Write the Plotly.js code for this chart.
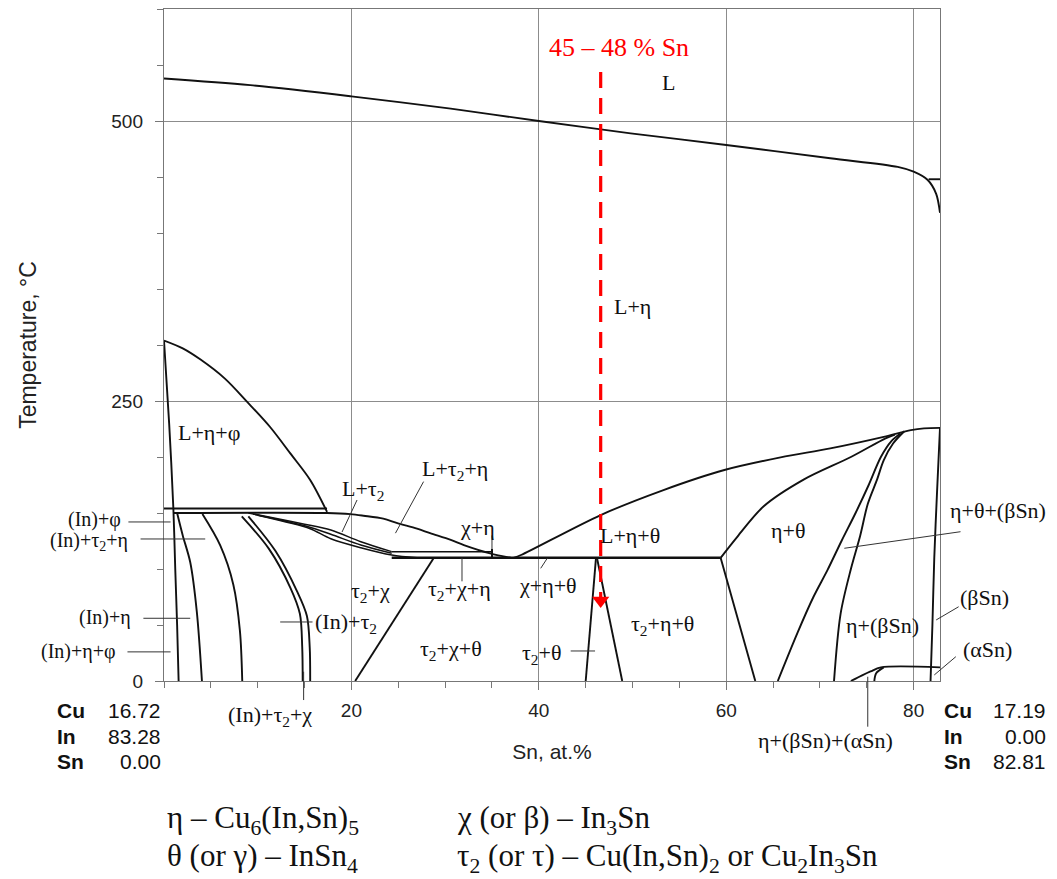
<!DOCTYPE html>
<html>
<head>
<meta charset="utf-8">
<script src="https://cdn.plot.ly/plotly-3.0.1.min.js"></script>
<style>
  html, body { margin: 0; padding: 0; background: #ffffff; }
  #chart { width: 1057px; height: 879px; }
</style>
</head>
<body>
<div id="chart"></div>
<script>
// Cu–In–Sn isopleth: Cu fixed (16.72 → 17.19 at.%), Sn from 0 to 82.81 at.%
// Each phase boundary is a pair of arrays: Sn (at.%) and temperature (°C).

const liquidusSn = [0, 9.2, 20, 30.6, 40, 49.8, 60, 71.1, 78.3, 80, 81.5, 82.4, 82.81];
const liquidusT  = [538, 532, 522, 511, 500, 489, 478.6, 466.7, 459, 454.7, 447.3, 435, 418];

const liqStepSn = [81.6, 82.81];
const liqStepT  = [448, 448];

const domeSn = [0, 2, 3.9, 6.5, 8.9, 11.3, 13.5, 15.6, 17.4];
const domeT  = [304, 297, 287, 270, 249, 227, 203, 179.5, 151];

const inSolvusSn = [0, 0.55, 1.0, 1.2, 1.4, 1.56];
const inSolvusT  = [304, 230, 154, 100, 50, 0];

const upperFlatSn = [0, 17.4];
const upperFlatT  = [154, 154];

const tau2LiqSn = [1.0, 17.4, 19.9, 21.3, 23.4, 24.9, 27, 28.4, 30.6, 32, 34.8, 37];
const tau2LiqT  = [150, 150, 149, 147.6, 145, 141, 136, 132, 126, 121.4, 114, 110];

const lineBSn = [1.4, 2.0, 2.8, 3.5, 4.05];
const lineBT  = [150, 130, 106, 62, 0];

const lineCSn = [4.1, 6.0, 7.4, 8.1, 8.35];
const lineCT  = [149, 121, 86, 45, 0];

const lineD1Sn = [8.3, 11.2, 13.5, 14.5, 14.75, 14.8];
const lineD1T  = [147, 118, 83, 60, 30, 0];

const lineD2Sn = [9.0, 11.9, 14.2, 15.25, 15.55, 15.6];
const lineD2T  = [147, 116, 80, 58, 30, 0];

const band1Sn = [9.0, 12, 15, 17.8, 21, 24.3];
const band1T  = [150, 145, 140, 134.8, 124.4, 115.5];
const band2Sn = [9.5, 12.5, 15.3, 17.8, 21, 24.3];
const band2T  = [149, 143.5, 138, 131, 121.4, 114];
const band3Sn = [10, 13, 15.6, 17.8, 21, 24.3, 27];
const band3T  = [148, 142, 136, 127, 119, 112.5, 110];

const chiEtaFlatSn = [24.3, 35.0];
const chiEtaFlatT  = [115.5, 115.5];
const chiEtaWallSn = [35.0, 35.0];
const chiEtaWallT  = [110, 118];

const eutecticSn = [24.3, 59.4];
const eutecticT  = [110, 110];

const chiSolvusSn = [20.4, 28.8];
const chiSolvusT  = [0, 110];

const tauThetaLeftSn  = [46.1, 45.0];
const tauThetaLeftT   = [110, 0];
const tauThetaRightSn = [46.2, 48.9];
const tauThetaRightT  = [110, 0];

const thetaLiqSn = [37.3, 38.1, 46.6, 53.3, 59.8, 65.8, 71.1, 76.8, 79.7, 81.1, 82.81];
const thetaLiqT  = [110, 112.5, 148.2, 170.5, 188.4, 199.7, 207.7, 218, 224, 225.6, 226];

const etaThetaSn = [59.4, 61.2, 64.0, 68.3, 73.3, 77.0, 78.0];
const etaThetaT  = [110, 129, 156, 180, 200, 216.7, 220];

const etaThetaLowSn = [59.4, 63.1];
const etaThetaLowT  = [110, 0];

const thetaSolvusSn = [65.5, 67.6, 69.3, 70.8, 72.3, 73.8, 75.2, 76.5, 77.6, 78.6];
const thetaSolvusT  = [0, 43, 75, 99, 125, 150, 175, 200, 214, 221];

const betaSnLeftSn = [71.5, 72.2, 73.3, 74.3, 75.1, 76.1, 76.8, 77.8, 79.0];
const betaSnLeftT  = [0, 60, 100, 130, 158, 180, 197, 212, 223];

const betaSnRightSn = [82.81, 82.5, 82.2, 82.0, 81.8];
const betaSnRightT  = [226, 170, 110, 50, 0];

const alphaSnSn = [73.3, 74.5, 75.4, 76.5, 82.81];
const alphaSnT  = [0, 5, 8.5, 12.2, 12.2];
const alphaSn2Sn = [75.8, 76.0, 76.8];
const alphaSn2T  = [0, 7, 12.2];

// section studied: 45–48 % Sn
const sectionSn = [46.6, 46.6];
const sectionT  = [543.75, 75];
const sectionTip = [71.9];

// phase-field labels inside the frame: [text, Sn, T]
const fieldLabels = [
  ['L', 53.8, 534],
  ['L+η', 50.0, 334],
  ['L+η+φ', 4.8, 222],
  ['L+τ<sub>2</sub>', 21.2, 170.5],
  ['L+τ<sub>2</sub>+η', 31.05, 188.4],
  ['χ+η', 33.5, 137.5],
  ['L+η+θ', 49.7, 129.5],
  ['η+θ', 66.6, 134],
  ['τ<sub>2</sub>+χ', 22.0, 79.5],
  ['τ<sub>2</sub>+χ+η', 31.5, 81],
  ['χ+η+θ', 41.0, 85],
  ['(In)+τ<sub>2</sub>', 19.4, 51.8],
  ['τ<sub>2</sub>+χ+θ', 30.6, 27.7],
  ['τ<sub>2</sub>+θ', 40.3, 24.1],
  ['τ<sub>2</sub>+η+θ', 53.2, 50],
  ['η+(βSn)', 76.7, 50]
];

// labels set outside the frame: [text, Sn, T, xanchor, size]
const outerLabels = [
  ['η+θ+(βSn)', 89.0, 151.8, 'center', 22],
  ['(βSn)', 87.6, 75, 'center', 22],
  ['(αSn)', 87.9, 27.7, 'center', 22],
  ['η+(βSn)+(αSn)', 70.6, -52.7, 'center', 22],
  ['(In)+τ<sub>2</sub>+χ', 11.3, -31, 'center', 22],
  ['(In)+φ', -4.4, 144.5, 'right', 20],
  ['(In)+τ<sub>2</sub>+η', -3.6, 125, 'right', 20],
  ['(In)+η', -3.3, 57, 'right', 20],
  ['(In)+η+φ', -4.9, 26, 'right', 20]
];

// leader lines: [fromSn, fromT, toSn, toT]
const leaders = [
  [-3.8, 142, 0.7, 142],
  [-2.5, 126.8, 4.4, 126.8],
  [-2.2, 56, 2.8, 56],
  [-3.9, 26, 0.7, 26],
  [14.9, -17, 14.9, 8.3],
  [15.85, 52.7, 12.4, 52.7],
  [20.6, 161.6, 19.0, 133],
  [27.7, 178, 24.7, 132],
  [35.0, 130, 35.0, 118],
  [31.8, 89, 31.8, 110],
  [40.2, 100.6, 40.9, 109.6],
  [43.4, 26.8, 46.0, 26.8],
  [85.0, 133.3, 72.6, 118.5],
  [84.8, 66.3, 82.4, 54.5],
  [84.5, 21.7, 82.2, 5.4],
  [75.1, -40.8, 75.1, 3.8]
];

const endLeftLabels  = ['Cu', 'In', 'Sn'];
const endLeftValues  = ['16.72', '83.28', '0.00'];
const endRightValues = ['17.19', '0.00', '82.81'];

const xTickVals = [20, 40, 60, 80];
const yTickVals = [0, 250, 500];

const legendRows = [
  ['η – Cu<sub>6</sub>(In,Sn)<sub>5</sub>', 'χ (or β) – In<sub>3</sub>Sn'],
  ['θ (or γ) – InSn<sub>4</sub>', 'τ<sub>2</sub> (or τ) – Cu(In,Sn)<sub>2</sub> or Cu<sub>2</sub>In<sub>3</sub>Sn']
];

const X_RANGE = [0, 82.81];
const Y_RANGE = [0, 600];
const INK = '#111111';
const SERIF = 'Liberation Serif, Times New Roman, serif';
const SANS = 'Liberation Sans, Arial, sans-serif';

// data → paper fractions, for items that sit partly outside the frame
function xPaper(sn) { return (sn - X_RANGE[0]) / (X_RANGE[1] - X_RANGE[0]); }
function yPaper(t) { return (t - Y_RANGE[0]) / (Y_RANGE[1] - Y_RANGE[0]); }

function boundary(x, y, smooth, width) {
  return {
    type: 'scatter', mode: 'lines', x: x, y: y, hoverinfo: 'skip', showlegend: false,
    line: { color: INK, width: width || 1.9, shape: smooth ? 'spline' : 'linear', smoothing: 0.9 }
  };
}

const traces = [
  boundary(liquidusSn, liquidusT, true),
  boundary(liqStepSn, liqStepT, false),
  boundary(domeSn, domeT, true),
  boundary(inSolvusSn, inSolvusT, true),
  boundary(upperFlatSn, upperFlatT, false, 2.2),
  boundary(tau2LiqSn, tau2LiqT, true),
  boundary(lineBSn, lineBT, true),
  boundary(lineCSn, lineCT, true),
  boundary(lineD1Sn, lineD1T, true),
  boundary(lineD2Sn, lineD2T, true),
  boundary(band1Sn, band1T, true, 1.5),
  boundary(band2Sn, band2T, true, 1.5),
  boundary(band3Sn, band3T, true, 1.5),
  boundary(chiEtaFlatSn, chiEtaFlatT, false, 1.5),
  boundary(chiEtaWallSn, chiEtaWallT, false, 2),
  boundary(eutecticSn, eutecticT, false, 2.6),
  boundary(chiSolvusSn, chiSolvusT, false),
  boundary(tauThetaLeftSn, tauThetaLeftT, false),
  boundary(tauThetaRightSn, tauThetaRightT, false),
  boundary(thetaLiqSn, thetaLiqT, true),
  boundary(etaThetaSn, etaThetaT, true),
  boundary(etaThetaLowSn, etaThetaLowT, false),
  boundary(thetaSolvusSn, thetaSolvusT, true),
  boundary(betaSnLeftSn, betaSnLeftT, true),
  boundary(betaSnRightSn, betaSnRightT, true),
  boundary(alphaSnSn, alphaSnT, true),
  boundary(alphaSn2Sn, alphaSn2T, true),
  {
    type: 'scatter', mode: 'lines', x: sectionSn, y: sectionT, hoverinfo: 'skip', showlegend: false,
    line: { color: '#ff0000', width: 3.2, dash: '16px,10px' }
  },
  {
    type: 'scatter', mode: 'markers', x: [sectionSn[0]], y: sectionTip, hoverinfo: 'skip', showlegend: false,
    cliponaxis: false,
    marker: { symbol: 'triangle-down', size: 15, color: '#ff0000', line: { width: 0 } }
  }
];

const annotations = [];

fieldLabels.forEach(function (f) {
  annotations.push({
    text: f[0], x: f[1], y: f[2], xref: 'x', yref: 'y', showarrow: false,
    xanchor: 'center', yanchor: 'middle',
    font: { family: SERIF, size: 22, color: '#111' }
  });
});

outerLabels.forEach(function (f) {
  annotations.push({
    text: f[0], x: xPaper(f[1]), y: yPaper(f[2]), xref: 'paper', yref: 'paper', showarrow: false,
    xanchor: f[3], yanchor: 'middle',
    font: { family: SERIF, size: f[4], color: '#111' }
  });
});

annotations.push({
  text: '45 – 48 % Sn', x: 48.6, y: 566, xref: 'x', yref: 'y', showarrow: false,
  xanchor: 'center', yanchor: 'middle',
  font: { family: SERIF, size: 26, color: '#ff0000' }
});

// composition of the two ends of the section
const rowY = [-0.0432, -0.0833, -0.1205];
endLeftLabels.forEach(function (el, i) {
  const common = { xref: 'paper', yref: 'paper', yanchor: 'middle', showarrow: false,
    font: { family: SANS, size: 21, color: '#111' } };
  annotations.push(Object.assign({ text: '<b>' + el + '</b>', x: -0.1405, y: rowY[i], xanchor: 'left' }, common));
  annotations.push(Object.assign({ text: endLeftValues[i], x: -0.0013, y: rowY[i], xanchor: 'right' }, common));
  annotations.push(Object.assign({ text: '<b>' + el + '</b>', x: 1.0026, y: rowY[i], xanchor: 'left' }, common));
  annotations.push(Object.assign({ text: endRightValues[i], x: 1.1392, y: rowY[i], xanchor: 'right' }, common));
});

// phase key under the diagram
const keyY = [-0.2068, -0.2634];
const keyX = [0.0013, 0.375];
legendRows.forEach(function (row, r) {
  row.forEach(function (txt, c) {
    annotations.push({ text: txt, x: keyX[c], y: keyY[r], xref: 'paper', yref: 'paper',
      xanchor: 'left', yanchor: 'middle', showarrow: false,
      font: { family: SERIF, size: 31, color: '#111' } });
  });
});

const shapes = leaders.map(function (l) {
  return {
    type: 'line', xref: 'paper', yref: 'paper', layer: 'above',
    x0: xPaper(l[0]), y0: yPaper(l[1]), x1: xPaper(l[2]), y1: yPaper(l[3]),
    line: { color: '#333', width: 1 }
  };
});

const layout = {
  width: 1057, height: 879,
  margin: { l: 164, r: 117, t: 9, b: 198, pad: 0 },
  paper_bgcolor: '#ffffff', plot_bgcolor: '#ffffff',
  showlegend: false,
  xaxis: {
    range: X_RANGE, tickmode: 'array', tickvals: xTickVals,
    ticks: 'outside', ticklen: 8, tickcolor: '#777', tickwidth: 1,
    showgrid: true, gridcolor: '#8c8c8c', gridwidth: 1, zeroline: false,
    showline: true, linecolor: '#777', linewidth: 1.2, mirror: true,
    minor: { tickmode: 'linear', tick0: 0, dtick: 5, ticks: 'outside', ticklen: 6, tickcolor: '#777', showgrid: false },
    tickfont: { family: SANS, size: 19, color: '#222' }, ticklabelstandoff: 4,
    title: { text: 'Sn, at.%', font: { family: SANS, size: 21, color: '#222' }, standoff: 24 }
  },
  yaxis: {
    range: Y_RANGE, tickmode: 'array', tickvals: yTickVals,
    ticks: 'outside', ticklen: 8, tickcolor: '#777', tickwidth: 1,
    showgrid: true, gridcolor: '#8c8c8c', gridwidth: 1, zeroline: false,
    showline: true, linecolor: '#777', linewidth: 1.2, mirror: true,
    minor: { tickmode: 'linear', tick0: 0, dtick: 50, ticks: 'outside', ticklen: 6, tickcolor: '#777', showgrid: false },
    tickfont: { family: SANS, size: 19, color: '#222' }, ticklabelstandoff: 8,
    title: { text: 'Temperature, °C', font: { family: SANS, size: 23, color: '#222' }, standoff: 68 }
  },
  annotations: annotations,
  shapes: shapes
};

Plotly.newPlot('chart', traces, layout, { staticPlot: true, displayModeBar: false });
</script>
</body>
</html>
